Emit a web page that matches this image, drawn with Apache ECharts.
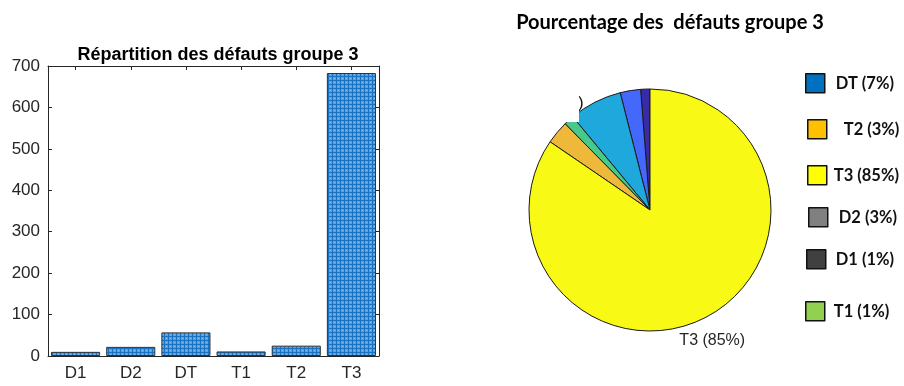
<!DOCTYPE html>
<html>
<head>
<meta charset="utf-8">
<script src="https://cdn.jsdelivr.net/npm/echarts@6/dist/echarts.min.js"></script>
<style>
  html, body { margin: 0; padding: 0; background: #fff; }
  #chart { width: 904px; height: 386px; }
</style>
</head>
<body>
<div id="chart"></div>
<script>
// Defect counts for group 3
const categories = ['D1', 'D2', 'DT', 'T1', 'T2', 'T3'];
const counts = [10, 22, 57, 11, 25, 683];

// Y-axis ticks of the bar chart
const yMin = 0;
const yMax = 700;
const yStep = 100;

// Order of the entries in the pie legend
const legendOrder = ['DT', 'T2', 'T3', 'D2', 'D1', 'T1'];

const total = counts.reduce((a, b) => a + b, 0);
const pct = name => Math.round(counts[categories.indexOf(name)] / total * 100);

// Hatched blue fill for the bars
function gridPattern() {
  const c = document.createElement('canvas');
  c.width = 4; c.height = 4;
  const g = c.getContext('2d');
  g.fillStyle = '#55a2e4';
  g.fillRect(0, 0, 4, 4);
  g.fillStyle = '#86c0ee';
  g.fillRect(2, 2, 1, 1);
  g.fillStyle = '#1a72c4';
  g.fillRect(0, 0, 4, 1);
  g.fillRect(0, 0, 1, 4);
  return c;
}

const pieColors = {
  D1: '#3b2aa8', D2: '#4467fc', DT: '#1fa8dc',
  T1: '#47c98b', T2: '#eeb83b', T3: '#f8f914'
};
const legendColors = {
  DT: '#0070c0', T2: '#ffc000', T3: '#ffff00',
  D2: '#808080', D1: '#404040', T1: '#92d050'
};
// Legend item placement (icon top-left, extra text padding)
const legendPlaces = {
  DT: [805, 73, 6], T2: [807, 119, 12], T3: [807, 165, 2],
  D2: [808, 207, 6], D1: [806, 249, 5], T1: [805, 301, 4]
};

const axisColor = '#262626';
const tickFont = { fontFamily: 'Liberation Sans, Arial, sans-serif', fontSize: 17, color: axisColor };

const legends = legendOrder.map(name => ({
  left: legendPlaces[name][0],
  top: legendPlaces[name][1],
  padding: 0,
  orient: 'vertical',
  selectedMode: false,
  icon: 'rect',
  itemWidth: 19,
  itemHeight: 19,
  data: [{
    name: name,
    itemStyle: { color: legendColors[name], borderColor: '#111', borderWidth: 1.5 }
  }],
  formatter: n => n + ' (' + pct(n) + '%)',
  textStyle: {
    fontFamily: 'Lato, "Open Sans", sans-serif',
    fontWeight: 'bold',
    fontSize: 16.5,
    color: '#111',
    padding: [0, 0, 0, legendPlaces[name][2]]
  }
}));

const chart = echarts.init(document.getElementById('chart'), null, { renderer: 'canvas' });

chart.setOption({
  animation: false,
  backgroundColor: '#ffffff',
  title: [
    {
      text: 'Répartition des défauts groupe 3',
      left: 213, top: 41, textAlign: 'center',
      textStyle: { fontFamily: 'Liberation Sans, Arial, sans-serif', fontWeight: 'bold', fontSize: 18, color: '#000' }
    },
    {
      text: 'Pourcentage des  défauts groupe 3',
      left: 665, top: 8, textAlign: 'center',
      textStyle: { fontFamily: 'Lato, "Open Sans", sans-serif', fontWeight: 'bold', fontSize: 20, color: '#000' }
    }
  ],
  legend: legends,
  grid: { left: 48, top: 66, width: 331, height: 290 },
  xAxis: [
    {
      type: 'category', data: categories, position: 'bottom',
      axisLine: { show: true, lineStyle: { color: axisColor, width: 1 } },
      axisTick: { show: true, inside: true, length: 4, alignWithLabel: true, lineStyle: { color: axisColor } },
      axisLabel: Object.assign({ margin: 9 }, tickFont),
      splitLine: { show: false }
    },
    {
      type: 'category', data: categories, position: 'top',
      axisLine: { show: true, onZero: false, lineStyle: { color: axisColor, width: 1 } },
      axisTick: { show: true, inside: true, length: 4, alignWithLabel: true, lineStyle: { color: axisColor } },
      axisLabel: { show: false },
      splitLine: { show: false }
    }
  ],
  yAxis: [
    {
      type: 'value', min: yMin, max: yMax, interval: yStep, position: 'left',
      axisLine: { show: true, lineStyle: { color: axisColor, width: 1 } },
      axisTick: { show: true, inside: true, length: 4, lineStyle: { color: axisColor } },
      axisLabel: Object.assign({ margin: 8 }, tickFont),
      splitLine: { show: false }
    },
    {
      type: 'value', min: yMin, max: yMax, interval: yStep, position: 'right',
      axisLine: { show: true, onZero: false, lineStyle: { color: axisColor, width: 1 } },
      axisTick: { show: true, inside: true, length: 4, lineStyle: { color: axisColor } },
      axisLabel: { show: false },
      splitLine: { show: false }
    }
  ],
  series: [
    {
      type: 'bar',
      xAxisIndex: 0, yAxisIndex: 0,
      data: counts,
      barWidth: '89%',
      itemStyle: {
        color: { image: gridPattern(), repeat: 'repeat' },
        borderColor: '#303030',
        borderWidth: 1
      },
      silent: true
    },
    {
      type: 'pie',
      center: [650, 210],
      radius: 121,
      startAngle: 90,
      clockwise: false,
      silent: true,
      data: categories.map((c, i) => ({
        name: c,
        value: counts[i],
        itemStyle: { color: pieColors[c] },
        label: { show: c === 'T3' }
      })),
      itemStyle: { borderColor: '#1a1a1a', borderWidth: 1 },
      label: {
        position: 'outside',
        formatter: p => p.name + ' (' + pct(p.name) + '%)',
        fontFamily: 'Liberation Sans, Arial, sans-serif',
        fontSize: 16,
        color: axisColor
      },
      labelLine: { show: false, length: 8, length2: 0 },
      labelLayout: p => ({ dx: -p.labelRect.width / 2 - 3, dy: p.labelRect.height / 2 + 9 })
    }
  ],
  graphic: [
    {
      type: 'text', left: 578, top: 95, z: 100,
      style: { text: ')', fontFamily: 'Liberation Sans, Arial, sans-serif', fontSize: 17, fill: '#111' }
    },
    {
      type: 'rect', left: 542, top: 90, z: 101,
      shape: { width: 37, height: 32 },
      style: { fill: '#ffffff' }
    }
  ]
});
</script>
</body>
</html>
